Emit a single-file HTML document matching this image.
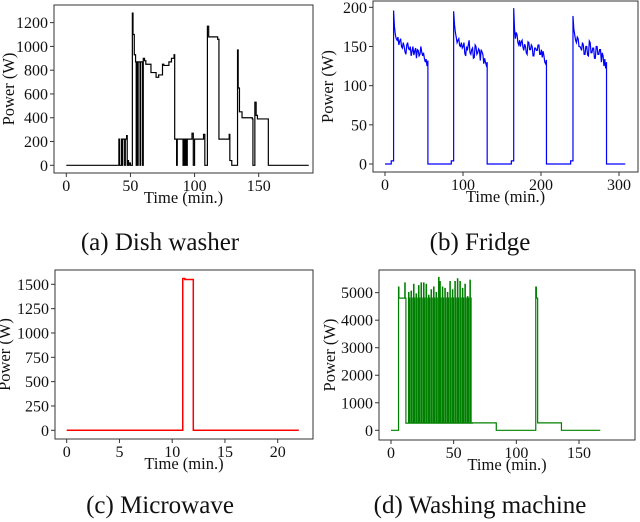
<!DOCTYPE html>
<html><head><meta charset="utf-8"><style>
html,body{margin:0;padding:0;background:#fff;}
svg{display:block;font-family:"Liberation Serif",serif;}
</style></head><body>
<svg id="chart" width="640" height="522" viewBox="0 0 640 522"></svg>
<script>
// Dish washer (step-post)
const dwT=[0,41,41.5,43,43.5,44,45,45.5,46,47,47.5,48,48.5,49,50,51,51.5,52,53,54,54.5,55,55.5,56,57,57.5,58,59,59.5,60,61,62,66,70,72,75,76,78,80,82,84,84.5,86,86.5,91,91.3,92,92.3,93,93.3,94,94.3,95,98,99,100,106,107,108,110,111,118,119,126,127,127.5,129,133.5,134,135,137,145,145.5,147,148,149,157,157.5,189];
const dwV=[0,220,0,220,0,220,220,0,220,250,0,40,0,20,0,0,1280,1100,930,870,0,870,0,870,870,0,870,870,0,900,880,850,780,740,760,850,840,840,870,900,930,220,0,220,0,220,0,220,0,220,0,220,220,270,0,220,220,260,0,1170,1080,1060,220,220,260,40,0,970,650,450,400,390,0,530,420,390,390,0,0];
// Fridge cycles
const fOn=[11,88,165,241];
const fOff=[55,131,207,284];
const fEnd=308;
const fPre=4;
const fCycles=[
[196,175,165,160,158,162,152,157,160,150,148,155,150,143,140,152,155,147,146,150,138,144,150,139,144,148,135,146,145,138,140,150,143,138,142,135,130,134,125,132],
[195,178,168,162,155,158,160,151,150,155,148,150,155,141,138,150,145,152,158,142,140,146,148,135,136,152,150,140,142,147,145,132,146,143,140,128,135,130,126,130],
[199,172,160,168,165,155,152,158,150,156,158,149,145,153,150,142,140,156,155,146,146,152,150,138,138,148,148,145,145,152,152,140,140,146,136,144,138,130,128,133],
[189,172,165,158,155,162,160,150,150,148,145,155,152,140,140,150,150,139,138,157,155,142,142,148,148,135,135,150,150,140,140,146,146,130,142,138,125,134,122,130]];
// Microwave (step-post)
const mwT=[0,11,11.2,12,22];
const mwV=[0,1560,1550,0,0];
// Washing machine
const wmStartOn=6, wmFirstOff=11, wmFirstPeak=5200, wmPlateau=4800, wmLow=260;
const wmPulse=[11,14,16,18,20,22,24,26,28,30,32,34,36,38,39,41,43,45,47,49,51,53,55,57,59,61,63];
const wmPeak=[5350,5000,5050,5300,4950,5250,5350,5350,5300,4900,5100,5200,5000,5550,5400,5200,5150,5000,5400,5100,5400,5500,5400,5150,5300,4850,5450];
const wmT2=[65,84,115,115.5,116,117,136,167];
const wmV2=[270,0,0,5200,4800,270,0,0];

const NS="http://www.w3.org/2000/svg";
const svg=document.getElementById('chart');
function el(tag,attrs,parent){const e=document.createElementNS(NS,tag);for(const k in attrs)e.setAttribute(k,attrs[k]);(parent||svg).appendChild(e);return e;}

function panel(cfg){
  const g=el('g',{});
  
  
  const X=v=>cfg.x0+v*cfg.kx, Y=v=>cfg.y0-v*cfg.ky;
  const [l,t,r,b]=cfg.box;
  let d='';
  cfg.pts.forEach((p,i)=>{d+=(i?'L':'M')+X(p[0]).toFixed(2)+' '+Y(p[1]).toFixed(2);});
  const path=el('path',{d:d,fill:'none',stroke:cfg.color,'stroke-width':cfg.sw||1.2,'stroke-linejoin':'miter'},g);
  
  
  const box=el('rect',{x:l,y:t,width:r-l,height:b-t,fill:'none',stroke:'#333','stroke-width':1},g);
  
  
  cfg.xt.forEach(v=>{
    el('line',{x1:X(v),x2:X(v),y1:b,y2:b+4,stroke:'#333'},g);
    const tx=el('text',{x:X(v),y:b+18,'font-size':16,'text-anchor':'middle',fill:'#111'},g);
    tx.textContent=v;
    
    
  });
  cfg.yt.forEach(v=>{
    el('line',{x1:l-4,x2:l,y1:Y(v),y2:Y(v),stroke:'#333'},g);
    const tx=el('text',{x:l-6,y:Y(v)+5.5,'font-size':16,'text-anchor':'end',fill:'#111'},g);
    tx.textContent=v;
    
    
  });
  const xl=el('text',{x:(l+r)/2,y:b+30,'font-size':16.5,'text-anchor':'middle',fill:'#111'},g);
  xl.textContent='Time (min.)';
  
  
  const cy=(t+b)/2;
  const yl=el('text',{x:cfg.ylx,y:cy,'font-size':16.5,'text-anchor':'middle',fill:'#111',transform:`rotate(-90 ${cfg.ylx} ${cy})`},g);
  yl.textContent='Power (W)';
  
  
  const cp=el('text',{x:(cfg.capx),y:cfg.capy,'font-size':25,'text-anchor':'middle',fill:'#111'},g);
  cp.textContent=cfg.caption;
  
  
}
function steps(T,V){const p=[];for(let i=0;i<T.length;i++){if(i>0)p.push([T[i],V[i-1]]);p.push([T[i],V[i]]);}return p;}

const fp=[[0,0]];
fOn.forEach((on,c)=>{
  fp.push([on-3,0],[on-3,fPre],[on,fPre]);
  const vals=fCycles[c],n=vals.length,dt=(fOff[c]-on)/(n-1);
  vals.forEach((v,i)=>fp.push([on+i*dt,v]));
  fp.push([fOff[c],0]);
});
fp.push([fEnd,0]);

const wT=[0,wmStartOn,wmStartOn+0.3],wV=[0,wmFirstPeak,wmPlateau];
wmPulse.forEach((s,i)=>{wT.push(s,s+0.3,s+0.9);wV.push(wmPeak[i],wmPlateau,wmLow);});
wmT2.forEach((t,i)=>{wT.push(t);wV.push(wmV2[i]);});
wT.splice(3,0,wmFirstOff-0.01);wV.splice(3,0,wmPlateau);

panel({name:'dish-washer',box:[54,5,313,173],x0:66.3,kx:1.2827,y0:165.3,ky:0.1189,xt:[0,50,100,150],yt:[0,200,400,600,800,1000,1200],pts:steps(dwT,dwV),color:'#000',ylx:14,caption:'(a) Dish washer',capx:160,capy:250});
panel({name:'fridge',box:[373,1,638,172],x0:385,kx:0.78,y0:164,ky:0.7833,xt:[0,100,200,300],yt:[0,50,100,150,200],pts:fp,color:'#0000ff',ylx:333,caption:'(b) Fridge',capx:480,capy:250});
panel({name:'microwave',box:[55,270,313,439],x0:66.7,kx:10.55,y0:430.3,ky:0.09733,xt:[0,5,10,15,20],yt:[0,250,500,750,1000,1250,1500],pts:steps(mwT,mwV),color:'#ff0000',sw:1.5,ylx:10,caption:'(c) Microwave',capx:160,capy:513});
panel({name:'washing-machine',box:[379,270,635,440],x0:391,kx:1.2533,y0:430.3,ky:0.02753,xt:[0,50,100,150],yt:[0,1000,2000,3000,4000,5000],pts:steps(wT,wV),color:'#008000',ylx:335,caption:'(d) Washing machine',capx:480,capy:513});
</script>
</body></html>
